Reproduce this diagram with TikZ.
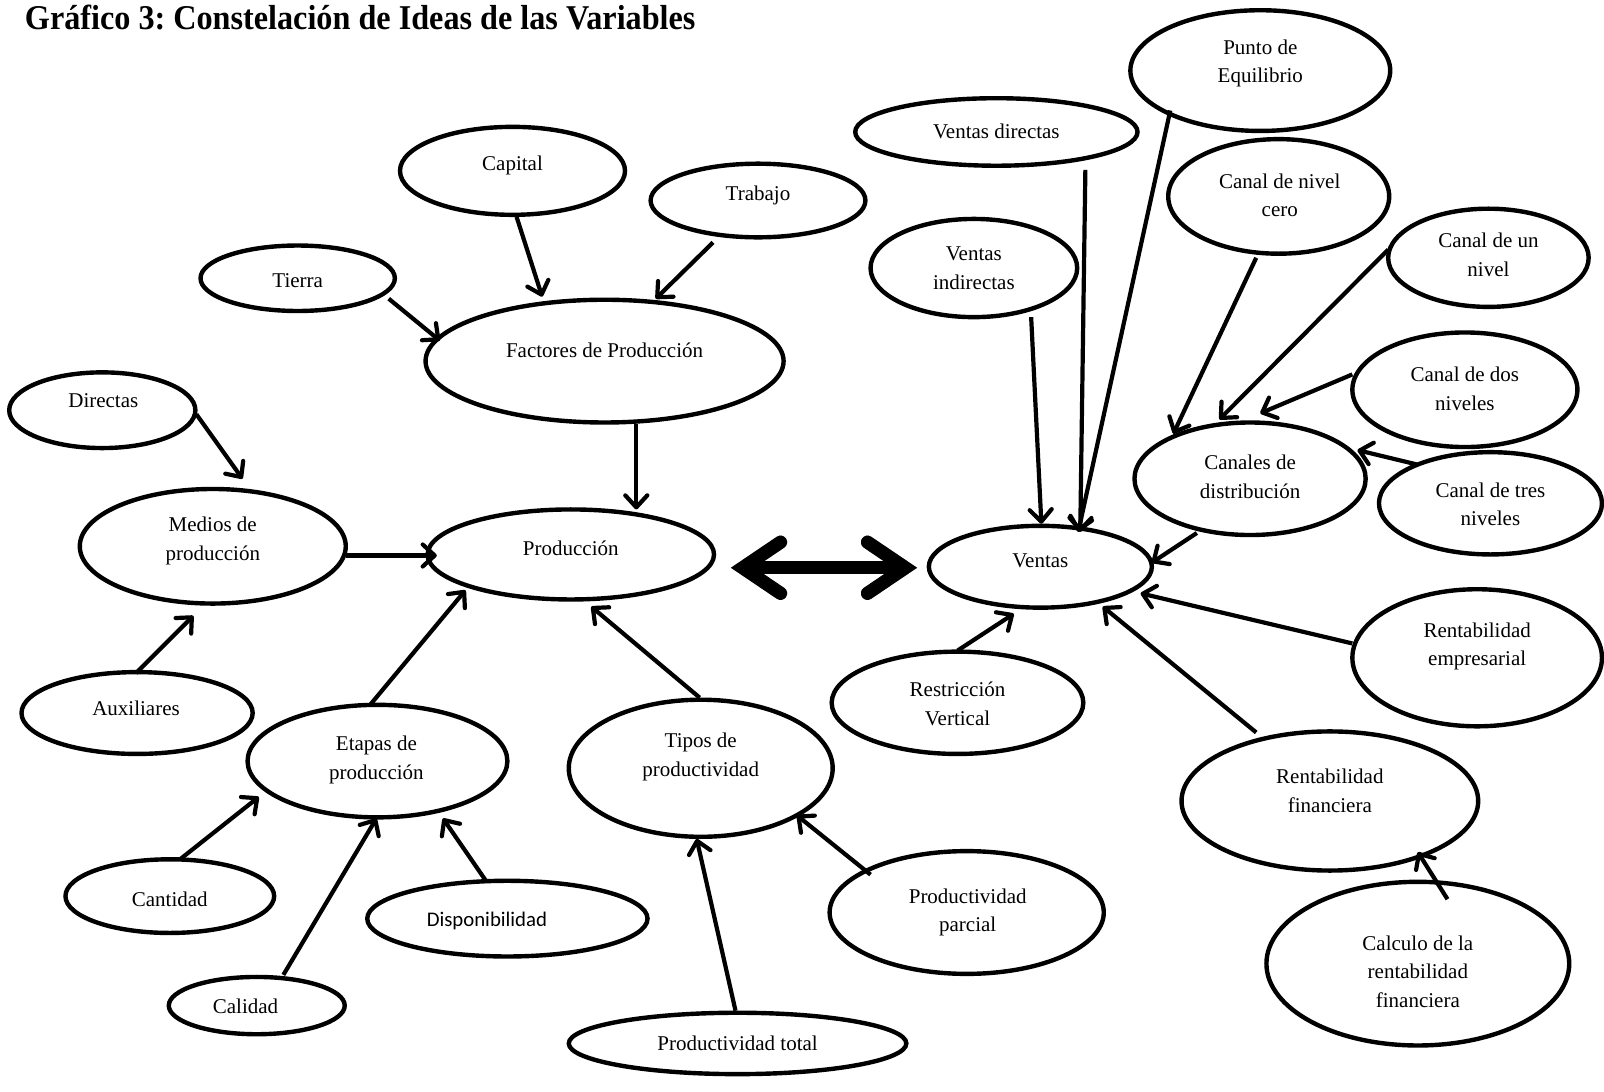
\documentclass[tikz,border=0pt]{standalone}
\usepackage{fontspec}
\setmainfont{Liberation Serif}
\newfontfamily\calfont{Carlito}
\usetikzlibrary{shapes.geometric,arrows.meta,calc}
\frenchspacing

\tikzset{
  bubble/.style={ellipse, draw=black, line width=2.2pt, fill=white, inner sep=0pt, outer sep=0pt},
  lbl/.style={align=center, inner sep=0pt, yshift=-1pt, font=\fontsize{10.5}{14.3}\selectfont},
  conn/.style={line width=2.1pt, -{Straight Barb[length=6pt,width=11pt,line width=2.1pt,round]}},
  bigshaft/.style={line width=6.6pt},
  bighead/.style={line width=6.6pt, line cap=round, line join=miter, miter limit=10},
}

% bubble: name, cx, cy, rx, ry
\newcommand\bub[5]{\node[bubble, minimum width={2*#4*0.5115pt}, minimum height={2*#5*0.5115pt}] (#1) at (#2,#3) {};}
% connector: name, start, end
\newcommand\link[3]{\coordinate (#1-s) at #2; \coordinate (#1-e) at #3; \draw[conn] (#1-s) -- (#1-e);}
% two-headed chevron arrow between the coordinates dl and dr
\newcommand\twoway[1]{%
  \draw[bigshaft,#1] ($(dl)+(6,0)$) -- ($(dr)+(-6,0)$);
  \draw[bighead,#1] ($(dl)+(37,-25)$) -- (dl) -- ($(dl)+(37,25)$);
  \draw[bighead,#1] ($(dr)+(-37,-25)$) -- (dr) -- ($(dr)+(-37,25)$);}

\begin{document}
\begin{tikzpicture}[x=0.5115pt, y=-0.5115pt]
\useasboundingbox (0,0) rectangle (1568,1067);

\node[anchor=base west, inner sep=0pt, yscale=1.08, font=\fontsize{16.1}{19}\selectfont\bfseries] (title) at (24,29)
  {Gráfico 3: Constelación de Ideas de las Variables};

% ---- bubbles
\bub{capital}{501}{167}{110}{43}
\bub{trabajo}{741}{196}{105}{36}
\bub{tierra}{291}{272}{95}{32}
\bub{factores}{591}{353}{175}{60}
\bub{directas}{100}{401}{91}{37}
\bub{medios}{208}{534}{130}{56}
\bub{produccion}{558}{542}{140}{44}
\bub{auxiliares}{134}{697}{113}{40}
\bub{etapas}{369}{744}{127}{55}
\bub{tipos}{685}{751}{129}{67}
\bub{cantidad}{166}{876}{102}{36}
\bub{disponibilidad}{496}{898}{137}{37}
\bub{calidad}{251}{983}{86}{28}
\bub{ptotal}{721}{1020}{165}{30}
\bub{pparcial}{945}{892}{134}{60}
\bub{vdirectas}{974}{129}{138}{33}
\bub{punto}{1232}{69}{127}{59}
\bub{vindirectas}{952}{262}{101}{48}
\bub{cero}{1250}{192}{108}{56}
\bub{unnivel}{1455}{252}{98}{48}
\bub{dos}{1432}{381}{110}{56}
\bub{canales}{1222}{468}{113}{55}
\bub{tres}{1457}{492}{109}{50}
\bub{ventas}{1017}{554}{109}{40}
\bub{rempresarial}{1444}{643}{122}{67}
\bub{restriccion}{936}{687}{123}{50}
\bub{rfinanciera}{1300}{783}{145}{68}
\bub{calculo}{1386}{942}{148}{80}

% ---- connectors (on top of the bubble outlines)
\link{l1}{(505,212)}{(530,290)}
\link{l2}{(697,237)}{(641,292)}
\link{l3}{(380,292)}{(430,333)}
\link{l4}{(622,414)}{(622,498)}
\link{l5}{(192,405)}{(237,468)}
\link{l6}{(338,543)}{(427,543)}
\link{l7}{(133,658)}{(189,602)}
\link{l8}{(361,690)}{(455,577)}
\link{l9}{(684,682)}{(578,593)}
\link{l10}{(176,840)}{(253,779)}
\link{l11}{(277,953)}{(368,800)}
\link{l12}{(475,861)}{(433,800)}
\link{l13}{(719,988)}{(681,820)}
\link{l14}{(851,855)}{(779,797)}
\link{l15}{(1061,166)}{(1056,520)}
\link{l16}{(1144,108)}{(1054,520)}
\link{l17}{(1008,310)}{(1018,512)}
\link{l18}{(1228,252)}{(1147,424)}
\link{l19}{(1357,244)}{(1192,410)}
\link{l20}{(1322,366)}{(1232,404)}
\link{l21}{(1385,454)}{(1327,440)}
\link{l22}{(1170,521)}{(1126,550)}
\link{l23}{(1322,629)}{(1115,580)}
\link{l24}{(1228,716)}{(1078,593)}
\link{l25}{(936,636)}{(991,600)}
\link{l26}{(1415,879)}{(1386,833)}

% ---- labels
\node[lbl] (t-capital) at (501,160) {Capital};
\node[lbl] (t-trabajo) at (741,189) {Trabajo};
\node[lbl] (t-tierra) at (291,272) {Tierra};
\node[lbl] (t-factores) at (591,340) {Factores de Producción};
\node[lbl] (t-directas) at (101,390) {Directas};
\node[lbl] (t-medios) at (208,527) {Medios de\\producción};
\node[lbl] (t-produccion) at (558,534) {Producción};
\node[lbl] (t-auxiliares) at (133,690) {Auxiliares};
\node[lbl] (t-etapas) at (368,741) {Etapas de\\producción};
\node[lbl] (t-tipos) at (685,738) {Tipos de\\productividad};
\node[lbl] (t-cantidad) at (166,877) {Cantidad};
\node[lbl, font=\fontsize{10.4}{13}\calfont] (t-disponibilidad) at (476,898) {Disponibilidad};
\node[lbl] (t-calidad) at (240,982) {Calidad};
\node[lbl] (t-ptotal) at (721,1018) {Productividad total};
\node[lbl] (t-pparcial) at (946,890) {Productividad\\parcial};
\node[lbl] (t-vdirectas) at (974,126) {Ventas directas};
\node[lbl] (t-punto) at (1232,60) {Punto de\\Equilibrio};
\node[lbl] (t-vindirectas) at (952,260) {Ventas\\indirectas};
\node[lbl] (t-cero) at (1251,189) {Canal de nivel\\cero};
\node[lbl] (t-unnivel) at (1455,247) {Canal de un\\nivel};
\node[lbl] (t-dos) at (1432,378) {Canal de dos\\niveles};
\node[lbl] (t-canales) at (1222,464) {Canales de\\distribución};
\node[lbl] (t-tres) at (1457,491) {Canal de tres\\niveles};
\node[lbl] (t-ventas) at (1017,546) {Ventas};
\node[lbl] (t-rempresarial) at (1444,630) {Rentabilidad\\empresarial};
\node[lbl] (t-restriccion) at (936,686) {Restricción\\Vertical};
\node[lbl] (t-rfinanciera) at (1300,771) {Rentabilidad\\financiera};
\node[lbl] (t-calculo) at (1386,948) {Calculo de la\\rentabilidad\\financiera};

% ---- two-way link between Producción and Ventas, with a soft drop shadow
\coordinate (dl) at (726,555);
\coordinate (dr) at (885,555);
\begin{scope}[shift={(3,3)}]
  \twoway{draw=black!35}
\end{scope}
\twoway{draw=black}
\end{tikzpicture}
\end{document}
